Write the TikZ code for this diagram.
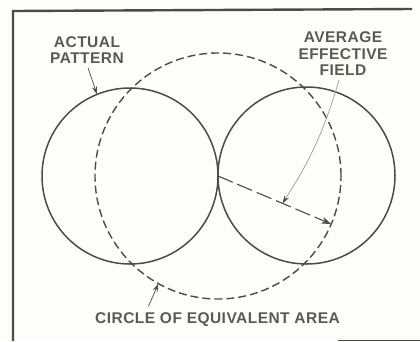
\documentclass[tikz,border=0pt]{standalone}
\usepackage{fontspec}
\setmainfont{Liberation Sans}[LetterSpace=3]
\usetikzlibrary{arrows.meta,calc}
\definecolor{apink}{HTML}{4A4E42}
\definecolor{aptext}{HTML}{585C50}
\definecolor{aplead}{HTML}{9A9E90}
\definecolor{appaper}{HTML}{FDFEF9}
\tikzset{
  ap label/.style={font=\bfseries\fontsize{15.5}{16.5}\selectfont, text=aptext,
    align=center, inner sep=0pt},
  ap ring/.style={draw=apink, line width=1.5pt, circle, inner sep=0pt, outer sep=0pt},
  ap equiv/.style={ap ring, line width=1.4pt, dash pattern=on 8pt off 4pt},
  ap radius/.style={draw=apink, line width=1.1pt, dash pattern=on 16pt off 5pt,
    -{Stealth[length=10pt,width=7pt]}},
  ap leader/.style={draw=apink, line width=0.7pt, -{Stealth[length=8pt,width=5pt]}},
  ap frame/.style={draw=apink, line width=2.4pt, line cap=butt}
}

\begin{document}
\begin{tikzpicture}[x=1pt, y=-1pt]
  \fill[appaper] (0,0) rectangle (420,341);
  \useasboundingbox (0,0) rectangle (420,341);

  % frame
  \draw[ap frame] (13,341) -- (13,11) -- (412,9);
  \draw[draw=apink, line width=1pt] (338,340) -- (420,340);

  % two lobes and the equivalent circle
  \node[ap ring, minimum size=176pt] (left) at (130,176) {};
  \node[ap ring, minimum size=177pt] (right) at (306.5,175.5) {};
  \node[ap equiv, minimum size=246pt] (equiv) at (218,176) {};

  % radius
  \coordinate (rim) at (equiv.-23.6);
  \draw[ap radius] (equiv.center) -- (rim);
  \coordinate (mid) at ($(equiv.center)!0.57!(rim)$);

  % labels
  \node[ap label] (actual) at (87,50) {ACTUAL\\PATTERN};
  \node[ap label] (average) at (343,54) {AVERAGE\\EFFECTIVE\\FIELD};
  \node[ap label] (circle) at (217.5,319.5) {CIRCLE OF EQUIVALENT AREA};

  % leaders
  \draw[ap leader] ($(actual.south)+(1,4)$) -- (left.112);
  \draw[ap leader] ($(circle.north)+(-69,-6)$) -- (equiv.-119);
  \draw[ap leader, draw=aplead, -{Stealth[length=8pt,width=5pt,color=apink]}]
    ($(average.south)+(-4,4)$) to[bend left=8] (mid);
\end{tikzpicture}
\end{document}
